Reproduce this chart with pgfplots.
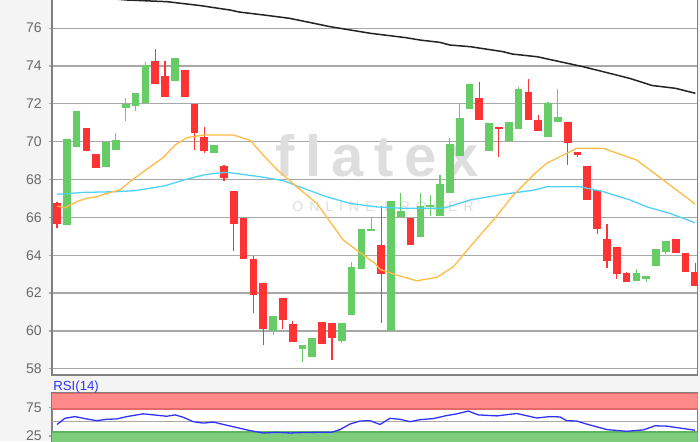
\documentclass[border=0pt]{standalone}
\usepackage{fontspec}
\setmainfont{Liberation Sans}
\newfontfamily\wmfont[LetterSpace=18]{Liberation Sans}
\newfontfamily\wmsmall[LetterSpace=43]{Liberation Sans}
\usepackage{pgfplots}
\pgfplotsset{compat=1.18}
\usepackage{pgfplotstable}

\definecolor{bggray}{RGB}{244,244,244}
\definecolor{gridgray}{RGB}{168,168,168}
\definecolor{framegray}{RGB}{128,128,128}
\definecolor{labgray}{RGB}{105,105,105}
\definecolor{cgreen}{RGB}{102,204,102}
\definecolor{cred}{RGB}{255,51,51}
\definecolor{macyan}{RGB}{80,210,245}
\definecolor{maorange}{RGB}{255,188,70}
\definecolor{mablack}{RGB}{35,35,35}
\definecolor{rsiblue}{RGB}{50,50,255}
\definecolor{bandred}{RGB}{255,138,138}
\definecolor{bandredd}{RGB}{225,105,105}
\definecolor{bandgreen}{RGB}{125,205,125}
\definecolor{bandgreend}{RGB}{95,180,95}
\definecolor{wmgray}{RGB}{222,222,222}

% candles: index open high low close
\pgfplotstableread{
i o h l c
1 65.60 70.12 65.60 70.12
2 69.70 71.62 69.70 71.62
5 68.68 70.00 68.68 70.00
6 69.58 70.44 69.58 70.11
7 71.76 72.29 71.09 71.99
8 71.90 72.60 71.64 72.57
9 72.03 74.19 72.03 74.07
12 73.21 74.42 73.21 74.42
16 69.39 69.82 69.39 69.82
22 60.00 60.77 59.77 60.77
25 59.03 59.27 58.34 59.27
26 58.60 59.61 58.60 59.61
29 59.49 60.42 59.38 60.42
30 60.86 63.64 60.86 63.38
31 63.27 65.37 63.27 65.37
32 65.28 65.99 65.28 65.40
34 60.00 66.87 60.00 66.87
35 66.00 67.31 66.00 66.32
37 64.98 67.29 64.98 66.60
38 66.60 67.17 66.09 66.65
39 66.09 68.22 66.09 67.76
40 67.31 70.18 67.31 69.90
41 69.23 71.97 69.23 71.27
42 71.75 73.07 71.75 73.07
44 69.51 70.99 69.51 70.99
46 70.02 71.06 70.02 71.06
47 70.69 72.91 70.69 72.80
50 70.27 72.12 70.27 72.03
51 71.02 72.77 71.02 71.32
59 62.66 63.25 62.66 63.04
60 62.73 62.89 62.57 62.89
61 63.41 64.33 63.41 64.33
62 64.17 64.75 64.05 64.75
}\greencandles

\pgfplotstableread{
i o h l c
0 66.74 66.80 65.46 65.67
3 70.72 70.72 69.51 69.51
4 69.35 69.35 68.63 68.63
10 74.28 74.90 73.07 73.07
11 73.45 74.28 72.38 72.38
13 73.81 73.81 72.38 72.38
14 72.01 72.01 69.56 70.46
15 70.23 70.79 69.38 69.51
17 68.73 68.75 67.92 68.06
18 67.41 67.41 64.22 65.67
19 65.95 65.95 63.82 63.82
20 63.78 63.96 60.93 61.90
21 62.55 62.55 59.24 60.12
23 61.74 61.74 60.08 60.60
24 60.37 60.52 59.43 59.43
27 60.49 60.49 59.29 59.29
28 60.42 60.42 58.46 59.64
33 64.54 66.62 60.44 62.99
36 65.99 65.99 64.56 64.56
43 72.31 73.14 71.15 71.15
45 70.79 70.80 69.21 70.67
48 72.64 73.30 71.15 71.15
49 71.13 71.41 70.55 70.55
52 71.06 71.06 68.75 69.91
53 69.47 69.47 69.21 69.28
54 68.73 68.73 66.90 66.90
55 67.45 67.45 65.12 65.39
56 64.88 65.67 63.33 63.70
57 64.42 64.42 62.73 62.99
58 63.04 63.10 62.59 62.59
63 64.88 64.88 64.10 64.10
64 64.14 64.14 63.13 63.13
65 63.10 63.59 62.39 62.39
}\redcandles

\pgfplotsset{
  chartframe/.style={
    scale only axis,
    width=322.85pt,
    xmin=-0.509, xmax=65.24,
    xtick=\empty,
    ytick pos=left,
    tick align=outside,
    major tick length=1.6pt,
    tick style={gridgray, line width=0.6pt},
    axis line style={framegray, line width=0.7pt},
    axis background/.style={fill=white},
    yticklabel style={font=\fontsize{7}{8}\selectfont, text=labgray},
    /pgf/number format/assume math mode=true,
  },
  wick/.style={draw=none, no markers, forget plot,
    error bars/.cd, y dir=both, y explicit, error mark=none,
    error bar style={draw=#1, line width=0.55pt}},
  body/.style={draw=none, no markers, forget plot,
    error bars/.cd, y dir=both, y explicit, error mark=none,
    error bar style={draw=#1, line width=3.85pt}},
}

\begin{document}
\begin{tikzpicture}
\fill[bggray] (0,0) rectangle (350pt,220.5pt);

% price panel
\begin{axis}[chartframe,
    at={(26pt,33pt)}, anchor=south west,
    height=190pt,
    ymin=57.67, ymax=77.753,
    ytick={58,60,...,76},
    ymajorgrids,
    grid style={gridgray, line width=0.6pt},
]
\node[anchor=base, text=wmgray, font=\wmfont\bfseries\fontsize{29}{29}\selectfont, inner sep=0]
  at (axis cs:32.6,68.15) {flatex};
\node[anchor=center, text=wmgray, font=\wmsmall\fontsize{7}{8}\selectfont, inner sep=0]
  at (axis cs:33.2,66.55) {ONLINE BROKER};

\addplot[wick=cgreen] table[x=i, y expr={(\thisrow{h}+\thisrow{l})/2},
  y error expr={(\thisrow{h}-\thisrow{l})/2}] \greencandles;
\addplot[body=cgreen] table[x=i, y expr={(\thisrow{o}+\thisrow{c})/2},
  y error expr={max(abs(\thisrow{c}-\thisrow{o})/2,0.04)}] \greencandles;
\addplot[wick=cred] table[x=i, y expr={(\thisrow{h}+\thisrow{l})/2},
  y error expr={(\thisrow{h}-\thisrow{l})/2}] \redcandles;
\addplot[body=cred] table[x=i, y expr={(\thisrow{o}+\thisrow{c})/2},
  y error expr={max(abs(\thisrow{c}-\thisrow{o})/2,0.04)}] \redcandles;

% slow average
\addplot[mablack, line width=0.75pt] coordinates {
  (0,77.8) (4,77.62) (7.1,77.49) (11.2,77.40) (14.5,77.2) (17.6,76.96)
  (18.6,76.85) (21,76.7) (23.7,76.52) (27.8,76.08) (31.9,75.73) (35.5,75.5)
  (37,75.37) (39,75.25) (40,75.11) (42.1,75.02) (45.4,74.76) (46.4,74.63)
  (48.9,74.49) (51.2,74.23) (53.6,73.96) (56,73.65) (58.3,73.35) (60.6,72.97)
  (63,72.82) (65,72.56)
};
% middle average
\addplot[macyan, line width=0.65pt] coordinates {
  (0,67.22) (2.68,67.32) (6.08,67.36) (7.94,67.41) (11.0,67.67) (12.86,67.97)
  (14.9,68.24) (16.1,68.33) (17.28,68.38) (20.67,68.15) (23.05,67.94)
  (25.08,67.54) (27.46,67.09) (29.84,66.74) (32.38,66.56) (35.23,66.48)
  (39.31,66.48) (42.06,66.92) (45.42,67.22) (48.68,67.45) (49.87,67.62)
  (53.26,67.62) (55.63,67.36) (58.35,66.92) (60.05,66.56) (62.42,66.21)
  (64.97,65.72)
};
% fast average
\addplot[maorange, line width=0.65pt] coordinates {
  (0,66.60) (0.81,66.51) (2.0,66.83) (3.02,67.01) (4.04,67.09) (5.06,67.27)
  (6.42,67.45) (7.43,67.89) (8.79,68.41) (10.82,69.17) (12.02,69.82)
  (13.2,70.21) (14.9,70.35) (17.95,70.35) (19.65,70.08) (21.0,69.29)
  (22.37,68.54) (24.41,67.62) (26.45,66.74) (27.8,65.77) (29.15,64.80)
  (30.52,64.27) (32.38,63.57) (32.89,63.25) (34.59,62.95) (36.63,62.65)
  (38.67,62.83) (40.36,63.39) (42.06,64.45) (44.43,65.86) (46.47,67.18)
  (48.68,68.33) (49.87,68.86) (51.56,69.30) (52.92,69.65) (55.63,69.65)
  (59.03,69.03) (61.74,67.97) (64.97,66.71)
};
\end{axis}

% RSI panel
\begin{axis}[chartframe,
    at={(26pt,-4.7pt)}, anchor=south west,
    height=28.7pt,
    ymin=0, ymax=100,
    ytick={25,75},
]
\addplot[fill=bandred, draw=bandredd, line width=0.6pt, forget plot]
  coordinates {(-1,72) (66,72) (66,100) (-1,100)} -- cycle;
\addplot[fill=bandgreen, draw=bandgreend, line width=0.6pt, forget plot]
  coordinates {(-1,-5) (66,-5) (66,32) (-1,32)} -- cycle;
\addplot[gridgray, line width=0.6pt, forget plot]
  coordinates {(-1,50) (66,50)};
\addplot[rsiblue, line width=0.65pt] coordinates {
  (0,45.2) (0.81,56.0) (1.83,58.9) (3.02,54.8) (4.04,51.8) (5.06,54.2)
  (6.08,54.8) (7.1,58.9) (8.79,63.7) (10.16,61.3) (11.17,59.5) (12.02,61.9)
  (12.86,57.7) (13.88,50.0) (14.9,47.6) (15.92,49.4) (16.94,45.2)
  (18.3,39.9) (19.65,34.5) (21.0,30.4) (22.37,31.5) (23.73,30.4)
  (24.75,31.0) (26.45,31.5) (27.97,31.5) (28.82,36.3) (29.84,46.0)
  (30.86,51.2) (31.87,51.8) (32.89,45.2) (33.9,55.9) (34.93,54.2)
  (35.95,50.0) (36.97,53.6) (38.32,55.4) (39.68,60.7) (40.7,63.7)
  (41.88,68.5) (42.9,61.9) (44.78,60.1) (46.81,64.3) (48.85,56.5)
  (50.2,58.9) (51.22,58.3) (51.9,51.8) (52.92,51.2) (53.94,45.8)
  (54.96,41.1) (55.98,36.3) (58.01,33.3) (59.7,35.7) (60.89,42.9)
  (62.08,42.3) (63.78,38.1) (64.97,35.1)
};
\end{axis}

\node[anchor=base west, text=rsiblue, font=\fontsize{6.6}{7}\selectfont, inner sep=0]
  at (26.5pt,25.3pt) {RSI(14)};

\pgfresetboundingbox
\useasboundingbox (0,0) rectangle (350pt,220.5pt);
\end{tikzpicture}
\end{document}
